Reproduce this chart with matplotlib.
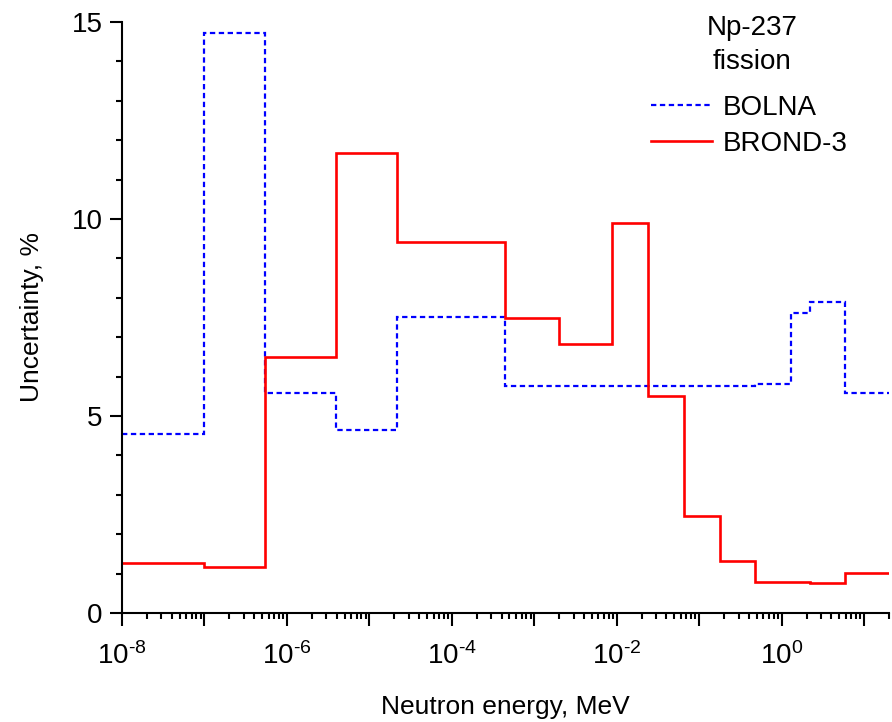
import numpy as np
import matplotlib
matplotlib.use('Agg')
import matplotlib.pyplot as plt
from matplotlib.ticker import LogLocator, FixedLocator, MultipleLocator, FuncFormatter, NullFormatter

plt.rcParams['font.family'] = ['Liberation Sans', 'DejaVu Sans']
plt.rcParams['mathtext.fontset'] = 'custom'
plt.rcParams['mathtext.rm'] = 'Liberation Sans'
plt.rcParams['mathtext.it'] = 'Liberation Sans:italic'

# Group boundaries (MeV) and uncertainties (%)
bolna_edges = [1e-8, 1e-7, 5.4e-7, 3.9e-6, 2.15e-5, 4.4e-4, 0.48, 1.30, 2.18, 5.9, 20]
bolna_unc = [4.54, 14.73, 5.58, 4.64, 7.52, 5.76, 5.81, 7.61, 7.89, 5.58]

brond_edges = [1e-8, 1e-7, 5.4e-7, 3.9e-6, 2.15e-5, 4.4e-4, 2.0e-3, 8.8e-3,
               2.37e-2, 6.5e-2, 0.178, 0.48, 2.18, 5.9, 20]
brond_unc = [1.28, 1.17, 6.50, 11.67, 9.41, 7.50, 6.83, 9.89, 5.52, 2.47,
             1.32, 0.79, 0.75, 1.02]

W, H = 892, 722
fig = plt.figure(figsize=(W / 100, H / 100), dpi=100)
ax = fig.add_axes([122/W, 109/H, 767/W, 591/H])

ax.stairs(bolna_unc, bolna_edges, baseline=None, color='#0000ff', lw=1.6,
          linestyle=(0, (2.4, 1.6)), label='BOLNA')
ax.stairs(brond_unc, brond_edges, baseline=None, color='#ff0000', lw=1.9,
          label='BROND-3')

ax.set_xscale('log')
ax.set_xlim(1e-8, 20)
ax.set_ylim(0, 15)

for s in ['top', 'right']:
    ax.spines[s].set_visible(False)
for s in ['left', 'bottom']:
    ax.spines[s].set_linewidth(1.5)

decades = [10.0**k for k in range(-8, 2)]
ax.xaxis.set_major_locator(FixedLocator(decades))
ax.xaxis.set_minor_locator(LogLocator(base=10, subs=np.arange(2, 10), numticks=30))
ax.xaxis.set_minor_formatter(NullFormatter())


def xfmt(v, pos):
    e = int(round(np.log10(v)))
    if e % 2 != 0:
        return ''
    if e < 0:
        return r'$\mathregular{10^{\text{-}%d}}$' % (-e)
    return r'$\mathregular{10^{%d}}$' % e


ax.xaxis.set_major_formatter(FuncFormatter(xfmt))
ax.yaxis.set_major_locator(MultipleLocator(5))
ax.yaxis.set_minor_locator(MultipleLocator(1))

ax.tick_params(which='major', length=9, width=1.5, labelsize=20, direction='out', pad=5)
ax.tick_params(which='minor', length=4.5, width=1.5, direction='out')
ax.tick_params(axis='x', which='major', pad=12)

ax.set_xlabel('Neutron energy, MeV', fontsize=19, labelpad=18)
ax.set_ylabel('Uncertainty, %', fontsize=19, labelpad=20)

fig.text(752/W, 1 - 15/H, 'Np-237\nfission', fontsize=20, ha='center', va='top',
         multialignment='center', linespacing=1.4)

ax.legend(loc='upper left', bbox_to_anchor=(651/W, 1 - 95/H),
          bbox_transform=fig.transFigure, frameon=False, fontsize=20,
          borderpad=0, borderaxespad=0, handlelength=2.2, handletextpad=0.4,
          labelspacing=0.35)

fig.savefig('out.png', dpi=100)
